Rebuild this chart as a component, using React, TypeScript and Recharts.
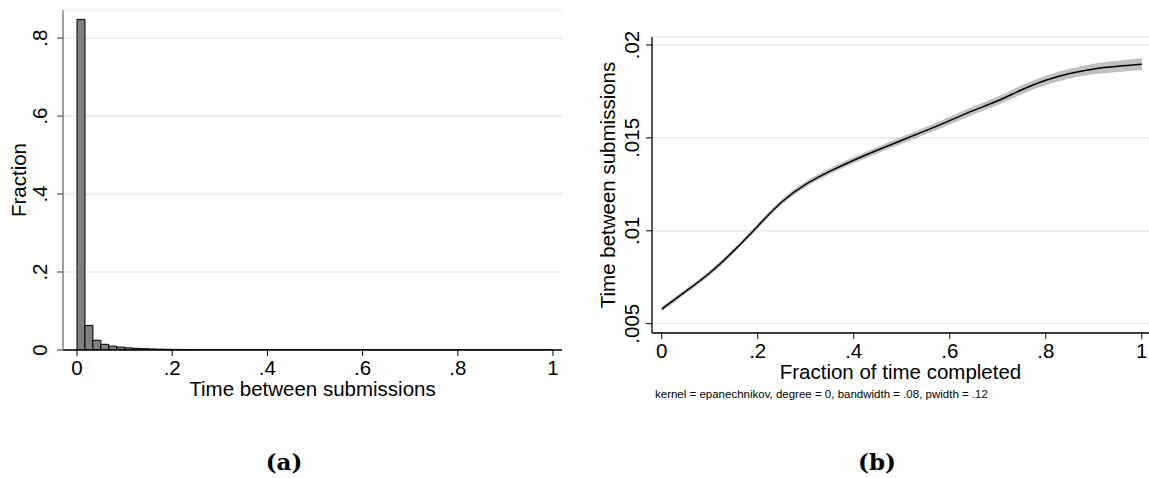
import React from 'react';
import {
  ComposedChart, BarChart, Bar, Line, Area, XAxis, YAxis, CartesianGrid, Label,
} from 'recharts';

// (a) histogram of time between submissions, 60 bins on [0, 1]
const binCenters = [
  0.0083, 0.025, 0.0417, 0.0583, 0.075, 0.0917, 0.1083, 0.125, 0.1417, 0.1583,
  0.175, 0.1917, 0.2083, 0.225, 0.2417, 0.2583, 0.275, 0.2917, 0.3083, 0.325,
  0.3417, 0.3583, 0.375, 0.3917, 0.4083, 0.425, 0.4417, 0.4583, 0.475, 0.4917,
  0.5083, 0.525, 0.5417, 0.5583, 0.575, 0.5917, 0.6083, 0.625, 0.6417, 0.6583,
  0.675, 0.6917, 0.7083, 0.725, 0.7417, 0.7583, 0.775, 0.7917, 0.8083, 0.825,
  0.8417, 0.8583, 0.875, 0.8917, 0.9083, 0.925, 0.9417, 0.9583, 0.975, 0.9917,
];
const fractions = [
  0.848, 0.063, 0.025, 0.0146, 0.01, 0.0075, 0.0056, 0.0043, 0.0034, 0.0027,
  0.0022, 0.0018, 0.0015, 0.0012, 0.001, 0.0009, 0.0008, 0.0007, 0.0006, 0.0005,
  0.0005, 0.0004, 0.0004, 0.0003, 0.0003, 0.0003, 0.0002, 0.0002, 0.0002, 0.0002,
  0.0002, 0.0001, 0.0001, 0.0001, 0.0001, 0.0001, 0.0001, 0.0001, 0.0001, 0.0001,
  0.0001, 0.0001, 0.0001, 0.0001, 0.0001, 0.0001, 0.0001, 0.0001, 0.0001, 0.0001,
  0.0001, 0.0001, 0.0001, 0.0001, 0.0001, 0.0001, 0.0001, 0.0001, 0.0001, 0.0002,
];
const histYTicks = [0, 0.2, 0.4, 0.6, 0.8];
const xTicks = [0, 0.2, 0.4, 0.6, 0.8, 1];

// (b) local polynomial smooth with confidence band
const completed = [0, 0.05, 0.1, 0.15, 0.2, 0.25, 0.3, 0.35, 0.4, 0.45, 0.5, 0.55, 0.6, 0.65, 0.7, 0.75, 0.8, 0.85, 0.9, 0.95, 1];
const smooth = [0.00579, 0.00674, 0.00773, 0.00892, 0.01025, 0.01155, 0.0125, 0.0132, 0.0138, 0.01435, 0.01487, 0.01539, 0.01593, 0.01648, 0.017, 0.01759, 0.0181, 0.01846, 0.01871, 0.01885, 0.01896];
const ciLow = [0.00565, 0.00661, 0.0076, 0.00879, 0.01012, 0.01141, 0.01235, 0.01304, 0.01363, 0.01417, 0.01468, 0.01519, 0.01572, 0.01626, 0.01677, 0.01735, 0.01785, 0.0182, 0.01843, 0.01855, 0.01864];
const ciHigh = [0.00593, 0.00687, 0.00786, 0.00905, 0.01038, 0.01169, 0.01265, 0.01336, 0.01397, 0.01453, 0.01506, 0.01559, 0.01614, 0.0167, 0.01723, 0.01783, 0.01835, 0.01872, 0.01899, 0.01915, 0.01928];
const smoothYTicks = [0.005, 0.01, 0.015, 0.02];

const FONT = '"Liberation Sans", Arial, Helvetica, sans-serif';
const FS = 20.5;

const fmt = (v: number) => (v === 0 ? '0' : v === 1 ? '1' : String(v).replace(/^0/, ''));

const RotatedTick = (props: any) => {
  const { x, y, payload } = props;
  return (
    <text x={x} y={y} transform={`rotate(-90 ${x} ${y})`} textAnchor="middle"
      fontSize={FS} fontFamily={FONT} fill="#000">
      {fmt(payload.value)}
    </text>
  );
};

const yTitle = (text: string) => (props: any) => {
  const vb = props.viewBox;
  const x = vb.x + vb.width - 37;
  const y = vb.y + vb.height / 2;
  return (
    <text x={x} y={y} transform={`rotate(-90 ${x} ${y})`} textAnchor="middle"
      fontSize={FS} fontFamily={FONT} fill="#000">
      {text}
    </text>
  );
};

const xTitle = (text: string, note?: string) => (props: any) => {
  const vb = props.viewBox;
  return (
    <g>
      <text x={vb.x + vb.width / 2} y={vb.y + 46} textAnchor="middle"
        fontSize={FS} fontFamily={FONT} fill="#000">
        {text}
      </text>
      {note && (
        <text x={vb.x + 3} y={vb.y + 65} textAnchor="start"
          fontSize={11.5} fontFamily={FONT} fill="#000">
          {note}
        </text>
      )}
    </g>
  );
};

const tickText = { fontSize: FS, fontFamily: FONT, fill: '#000' };

const panelLabel: React.CSSProperties = {
  position: 'absolute', width: 100, top: 447, textAlign: 'center',
  fontFamily: '"DejaVu Serif", "Liberation Serif", serif', fontWeight: 'bold',
  fontSize: 23, lineHeight: '30px', color: '#000',
};

export default function App() {
  const histData = binCenters.map((x, i) => ({ x, fraction: fractions[i] }));
  const smoothData = completed.map((x, i) => ({ x, y: smooth[i], band: [ciLow[i], ciHigh[i]] }));

  return (
    <div style={{ position: 'absolute', left: 0, top: 0, width: 1149, height: 478, background: '#fff', overflow: 'hidden' }}>
      <div style={{ position: 'absolute', left: 0, top: 0 }}>
        <BarChart width={575} height={420} data={histData} barCategoryGap={0}
          margin={{ top: 10, right: 13, bottom: 10, left: 0 }}>
          <CartesianGrid vertical={false} stroke="#e6e6e6" strokeWidth={1.2} />
          <XAxis dataKey="x" type="number" domain={[-0.0294, 1.0189]} allowDataOverflow
            ticks={xTicks} tickFormatter={fmt} interval={0} height={60}
            tick={tickText} tickSize={6} tickMargin={4}
            axisLine={{ stroke: '#000', strokeWidth: 1.3 }} tickLine={{ stroke: '#000' }}>
            <Label content={xTitle('Time between submissions')} />
          </XAxis>
          <YAxis type="number" domain={[0, 0.872]} allowDataOverflow ticks={histYTicks}
            width={63} tick={<RotatedTick />} tickSize={6} tickMargin={10} interval={0}
            axisLine={{ stroke: '#808080', strokeWidth: 1.5 }} tickLine={{ stroke: '#333' }}>
            <Label content={yTitle('Fraction')} />
          </YAxis>
          <Bar dataKey="fraction" fill="#808080" stroke="#000" strokeWidth={1}
            isAnimationActive={false} />
        </BarChart>
      </div>

      <div style={{ position: 'absolute', left: 570, top: 0 }}>
        <ComposedChart width={579} height={420} data={smoothData}
          margin={{ top: 37, right: 0, bottom: 20, left: 0 }}>
          <CartesianGrid vertical={false} stroke="#e6e6e6" strokeWidth={1.2} />
          <XAxis dataKey="x" type="number" domain={[-0.0202, 1.015]} allowDataOverflow
            ticks={xTicks} tickFormatter={fmt} interval={0} height={67}
            tick={tickText} tickSize={6} tickMargin={4}
            axisLine={{ stroke: '#000', strokeWidth: 1.3 }} tickLine={{ stroke: '#000' }}>
            <Label content={xTitle('Fraction of time completed',
              'kernel = epanechnikov, degree = 0, bandwidth = .08, pwidth = .12')} />
          </XAxis>
          <YAxis type="number" domain={[0.0045, 0.02043]} allowDataOverflow ticks={smoothYTicks}
            width={82} tick={<RotatedTick />} tickSize={6} tickMargin={7} interval={0}
            axisLine={{ stroke: '#000', strokeWidth: 1.3 }} tickLine={{ stroke: '#000' }}>
            <Label content={yTitle('Time between submissions')} />
          </YAxis>
          <Area dataKey="band" type="natural" fill="#c0c0c0" fillOpacity={1} stroke="none"
            isAnimationActive={false} />
          <Line dataKey="y" type="natural" stroke="#000" strokeWidth={1.5} dot={false}
            isAnimationActive={false} />
        </ComposedChart>
      </div>

      <div style={{ ...panelLabel, left: 234 }}>(a)</div>
      <div style={{ ...panelLabel, left: 827 }}>(b)</div>
    </div>
  );
}
